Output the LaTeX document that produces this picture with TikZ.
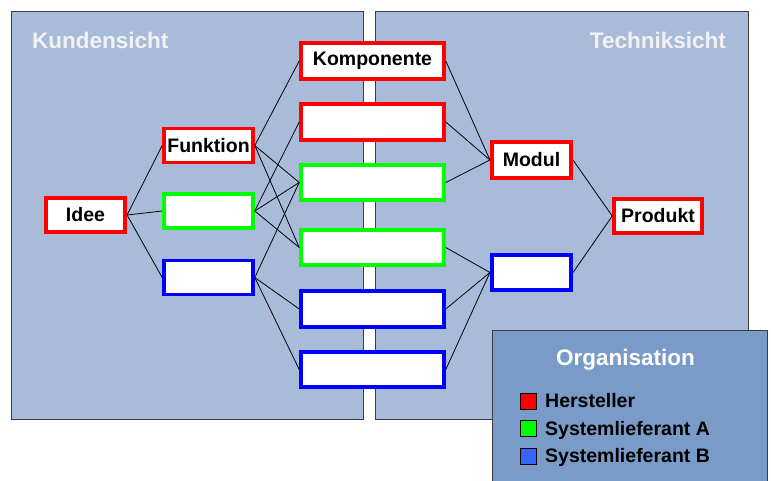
\documentclass[tikz,border=0pt]{standalone}
\usepackage{fontspec}
\setmainfont{Liberation Sans}
\usepackage{tikz}
\usetikzlibrary{positioning}

\definecolor{hst}{RGB}{255,0,0}
\definecolor{sla}{RGB}{0,255,0}
\definecolor{slb}{RGB}{0,0,255}
\definecolor{legb}{RGB}{51,102,255}
\definecolor{panel}{RGB}{168,188,218}
\definecolor{orgpanel}{RGB}{122,155,200}
\definecolor{rim}{RGB}{60,60,60}
\definecolor{head}{RGB}{242,242,242}

\tikzset{
  panelbox/.style={fill=panel, draw=rim, line width=1pt},
  headtext/.style={text=head, inner sep=0pt, font=\bfseries\fontsize{22.5}{24}\selectfont},
  box/.style={draw, line width=3.6pt, fill=white, inner sep=0pt, font=\bfseries\fontsize{19.5}{21}\selectfont},
  smallbox/.style={box, minimum width=89pt, minimum height=34pt},
  widebox/.style={box, minimum width=143pt, minimum height=35.5pt},
  link/.style={line width=0.8pt, black},
  legsq/.style={draw=black, line width=0.8pt, minimum size=16pt, inner sep=0pt},
  legtext/.style={anchor=base west, inner sep=0pt, font=\bfseries\fontsize{19.5}{21}\selectfont}
}

\begin{document}
\begin{tikzpicture}[x=1pt, y=-1pt]
\useasboundingbox (0,0) rectangle (771,481);

\path[panelbox] (11,12) rectangle (363,419);
\path[panelbox] (375,12) rectangle (748,419);
\path (32,49) node (kunde) [headtext, anchor=base west] {Kundensicht};
\path (726,49) node (technik) [headtext, anchor=base east] {Techniksicht};

\path (85.5,215) node (idee) [smallbox, draw=hst, minimum width=79.5pt] {Idee};
\path (208.5,145.5) node (funktion) [smallbox, draw=hst] {Funktion};
\path (208.5,211) node (fa) [smallbox, draw=sla] {};
\path (208.5,277.5) node (fb) [smallbox, draw=slb] {};

\path (372.5,61) node (komp) [widebox, draw=hst] {Komponente};
\path (372.5,122) node (kh) [widebox, draw=hst] {};
\path (372.5,182.5) node (ka1) [widebox, draw=sla] {};
\path (372.5,247.5) node (ka2) [widebox, draw=sla] {};
\path (372.5,309) node (kb1) [widebox, draw=slb] {};
\path (372.5,369.5) node (kb2) [widebox, draw=slb] {};

\path (531.5,160) node (modul) [smallbox, draw=hst, minimum width=79.5pt, minimum height=35.5pt] {Modul};
\path (531.5,272.5) node (mb) [smallbox, draw=slb, minimum width=79.5pt, minimum height=35.5pt] {};
\path (658,216) node (produkt) [smallbox, draw=hst, minimum width=88pt] {Produkt};

\draw[link] (idee.east) -- (funktion.west);
\draw[link] (idee.east) -- (fa.west);
\draw[link] (idee.east) -- (fb.west);
\draw[link] (funktion.east) -- (komp.west);
\draw[link] (funktion.east) -- (ka1.west);
\draw[link] (funktion.east) -- (ka2.west);
\draw[link] (fa.east) -- (kh.west);
\draw[link] (fa.east) -- (ka1.west);
\draw[link] (fa.east) -- (ka2.west);
\draw[link] (fb.east) -- (ka1.west);
\draw[link] (fb.east) -- (kb1.west);
\draw[link] (fb.east) -- (kb2.west);
\draw[link] (komp.east) -- (modul.west);
\draw[link] (kh.east) -- (modul.west);
\draw[link] (ka1.east) -- (modul.west);
\draw[link] (ka2.east) -- (mb.west);
\draw[link] (kb1.east) -- (mb.west);
\draw[link] (kb2.east) -- (mb.west);
\draw[link] (modul.east) -- (produkt.west);
\draw[link] (mb.east) -- (produkt.west);

\fill[orgpanel] (492,330) rectangle (767,481);
\draw[rim, line width=1pt] (492,481) -- (492,330) -- (767,330) -- (767,481);
\path (625.5,365) node (org) [headtext, text=white, anchor=base] {Organisation};
\path (528.5,401.5) node (lh) [legsq, fill=hst] {};
\path (528.5,428.5) node (la) [legsq, fill=sla] {};
\path (528.5,456.5) node (lb) [legsq, fill=legb] {};
\path (545,407) node (th) [legtext] {Hersteller};
\path (545,435) node (ta) [legtext] {Systemlieferant A};
\path (545,462.5) node (tb) [legtext] {Systemlieferant B};
\end{tikzpicture}
\end{document}
